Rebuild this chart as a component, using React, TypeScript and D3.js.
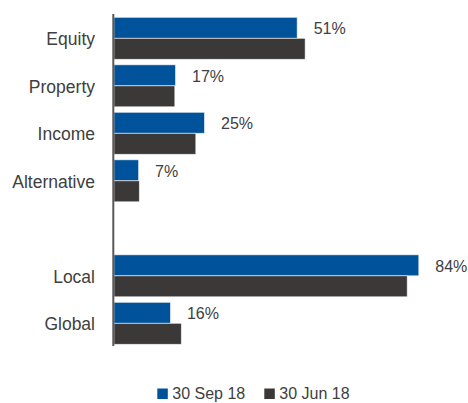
import React from "react";
import * as d3 from "d3";

const categories = ["Equity", "Property", "Income", "Alternative", "", "Local", "Global"];
const sep18 = [50.6, 17.0, 25.0, 6.8, null, 84.2, 15.6];
const jun18 = [52.8, 16.8, 22.6, 7.0, null, 81.0, 18.6];
const seriesNames = ["30 Sep 18", "30 Jun 18"];
const seriesColors = ["#00539B", "#3B3938"];

const W = 468;
const H = 403;
const FONT = "'Liberation Sans', Arial, sans-serif";
const TEXT = "#404040";

export default function App() {
  const y = d3
    .scaleBand<string>()
    .domain(categories.map((c, i) => c || `gap${i}`))
    .range([14.55, 347.05])
    .paddingInner(0.116)
    .paddingOuter(0.058);
  const sub = d3.scaleBand<number>().domain([0, 1]).range([0, y.bandwidth()]);
  const x = d3.scaleLinear().domain([0, 100]).range([114, 476]);
  const series = [sep18, jun18];
  const fmt = d3.format(".0f");

  return (
    <svg
      width={W}
      height={H}
      style={{ position: "absolute", left: 0, top: 0, display: "block", background: "#fff" }}
      fontFamily={FONT}
    >
      {categories.map((c, i) => {
        const key = c || `gap${i}`;
        const y0 = y(key)!;
        return (
          <g key={key}>
            {series.map((s, si) =>
              s[i] == null ? null : (
                <rect
                  key={si}
                  x={x(0)}
                  y={y0 + sub(si)!}
                  width={x(s[i] as number) - x(0)}
                  height={sub.bandwidth()}
                  fill={seriesColors[si]}
                  stroke="#ffffff"
                  strokeWidth={0.8}
                  strokeOpacity={0.7}
                />
              )
            )}
            {c && (
              <text
                x={95}
                y={y0 + y.bandwidth() / 2 + 1}
                textAnchor="end"
                dominantBaseline="central"
                fontSize={17.5}
                fill={TEXT}
              >
                {c}
              </text>
            )}
            {sep18[i] != null && (
              <text
                x={x(sep18[i] as number) + 16.5}
                y={y0 + sub.bandwidth() / 2 + 1}
                dominantBaseline="central"
                fontSize={16}
                fill={TEXT}
              >
                {fmt(sep18[i] as number) + "%"}
              </text>
            )}
          </g>
        );
      })}
      <line x1={113.3} x2={113.3} y1={14} y2={346} stroke="#595959" strokeWidth={2} />
      <g>
        {seriesNames.map((n, i) => {
          const lx = [157.3, 264.3][i];
          return (
            <g key={n}>
              <rect x={lx} y={388.5} width={10.5} height={10.5} fill={seriesColors[i]} />
              <text x={lx + 15} y={399} fontSize={16} fill={TEXT}>
                {n}
              </text>
            </g>
          );
        })}
      </g>
    </svg>
  );
}
